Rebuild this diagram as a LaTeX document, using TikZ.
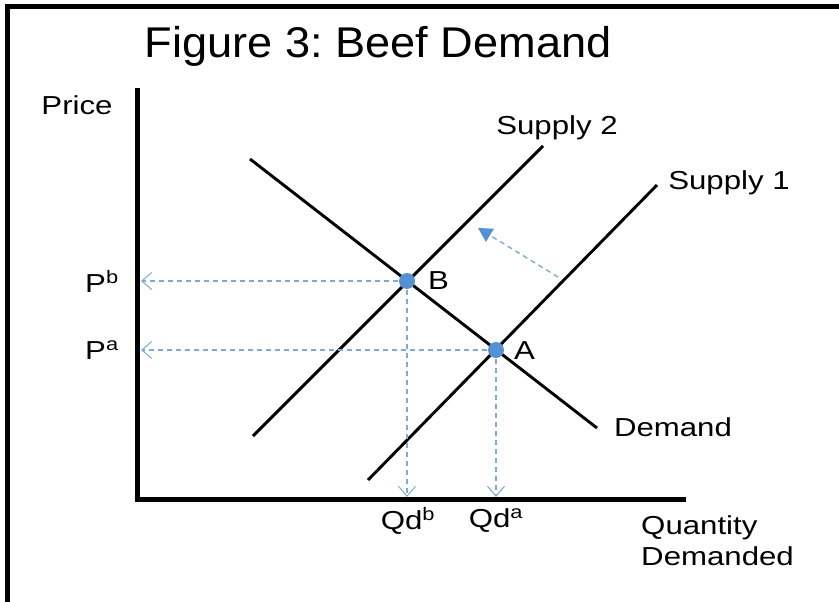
\documentclass[tikz,border=0pt]{standalone}
\usepackage{fontspec}
\setmainfont{Liberation Sans}
\usetikzlibrary{arrows.meta, positioning}
\definecolor{guideblue}{RGB}{125,170,215}
\definecolor{dotblue}{RGB}{85,145,210}
\frenchspacing

\begin{document}
\begin{tikzpicture}[
    x=1pt, y=-1pt,
    frame/.style={line width=5pt},
    axis/.style={line width=5pt},
    curve/.style={line width=2.9pt},
    guide/.style={draw=guideblue, line width=1.2pt, dash pattern=on 5pt off 4pt, -{Straight Barb[length=10pt, width=17pt, line width=1pt]}},
    shiftarrow/.style={draw=guideblue, line width=1.4pt, dash pattern=on 5pt off 4pt, -{Triangle[length=14pt, width=15pt, color=dotblue]}},
    dot/.style={circle, fill=dotblue, inner sep=0pt, minimum size=16pt},
    lbl/.style={font=\fontsize{26}{31}\selectfont, xscale=1.2, inner sep=0pt},
    title_style/.style={font=\fontsize{43}{48}\selectfont, xscale=1.05, inner sep=0pt}
]

    \useasboundingbox (0,0) rectangle (839,602);
    \fill[white] (0,0) rectangle (839,602);

    % ================= FRAME AND TITLE =================
    \draw[frame] (7,602) -- (7,7) -- (839,7);
    \node[title_style] (title) at (378,46) {Figure 3: Beef Demand};

    % ================= AXES =================
    \coordinate (origin) at (137,499);
    \coordinate (ytop) at (137,88);
    \coordinate (xend) at (686,499);
    \draw[axis] (ytop) -- (origin |- 0,501.5);
    \draw[axis] (134.5,499) -- (xend);

    \node[lbl] (price) at (77,105) {Price};
    \node[lbl, anchor=west, align=left] (qty) at (641,541) {Quantity\\Demanded};

    % ================= CURVES =================
    \coordinate (B) at (407,281);
    \coordinate (A) at (496,350);

    \coordinate (d1) at (250,159);
    \coordinate (d2) at (597,428);
    \coordinate (s2a) at (253,436);
    \coordinate (s2b) at (543,146);
    \coordinate (s1a) at (368,480);
    \coordinate (s1b) at (657,185);

    \draw[curve] (d1) -- (d2);
    \draw[curve] (s2a) -- (s2b);
    \draw[curve] (s1a) -- (s1b);

    \node[lbl] (supply2) at (557,128) {Supply 2};
    \node[lbl] (supply1) at (729,183) {Supply 1};
    \node[lbl] (demand) at (673,427) {Demand};

    % ================= GUIDES =================
    \coordinate (Pb) at (141,281);
    \coordinate (Pa) at (141,350);
    \coordinate (Qb) at (407,497);
    \coordinate (Qa) at (496,497);

    \draw[guide] (B) -- (Pb);
    \draw[guide] (A) -- (Pa);
    \draw[guide] (B) -- (Qb);
    \draw[guide] (A) -- (Qa);

    % shift of supply
    \coordinate (shiftfrom) at (558,277);
    \coordinate (shiftto) at (478,228);
    \draw[shiftarrow] (shiftfrom) -- (shiftto);

    % ================= EQUILIBRIA =================
    \node[dot] (dotB) at (B) {};
    \node[dot] (dotA) at (A) {};
    \node[lbl, anchor=west] (labB) at (428,281) {B};
    \node[lbl, anchor=west] (labA) at (514,351) {A};

    \node[lbl] (labPb) at (102,281) {P\textsuperscript{b}};
    \node[lbl] (labPa) at (102,350) {P\textsuperscript{a}};
    \node[lbl] (labQb) at (408,521) {Qd\textsuperscript{b}};
    \node[lbl] (labQa) at (496,521) {Qd\textsuperscript{a}};

\end{tikzpicture}
\end{document}
